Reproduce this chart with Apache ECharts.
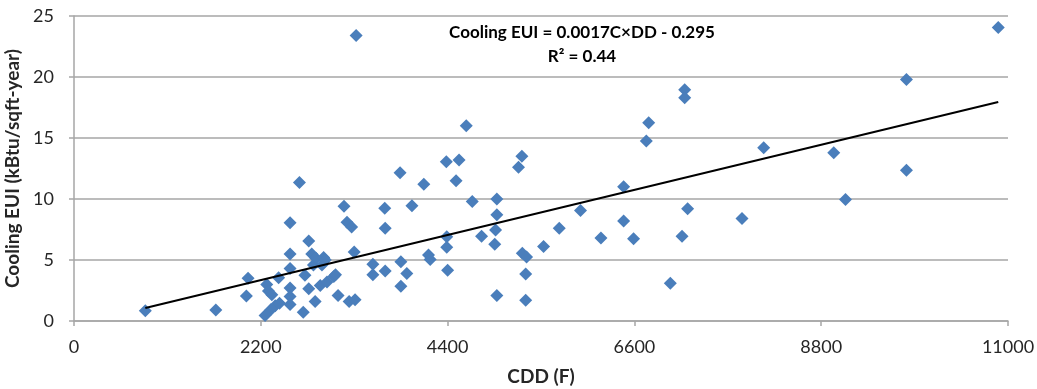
<!DOCTYPE html>
<html>
<head>
<meta charset="utf-8">
<script src="https://cdn.jsdelivr.net/npm/echarts@6/dist/echarts.min.js"></script>
<style>
  html, body { margin: 0; padding: 0; background: #fff; }
  #chart { width: 1037px; height: 389px; }
</style>
</head>
<body>
<div id="chart"></div>
<script>
// CDD (F) per building
const cdd = [
  840, 1670, 2030, 2050, 2250, 2270, 2290, 2320, 2330, 2370,
  2410, 2420, 2545, 2545, 2545, 2545, 2545, 2545, 2655, 2700,
  2720, 2765, 2765, 2800, 2820, 2840, 2850, 2900, 2920, 2940,
  2960, 2980, 3060, 3080, 3110, 3180, 3215, 3240, 3270, 3300,
  3310, 3323, 3520, 3520, 3660, 3665, 3665, 3840, 3850, 3850,
  3920, 3980, 4120, 4175, 4195, 4385, 4390, 4390, 4400, 4500,
  4535, 4620, 4690, 4800, 4955, 4965, 4980, 4980, 4980, 5235,
  5275, 5280, 5330, 5320, 5320, 5530, 5715, 5965, 6206, 6473,
  6473, 6590, 6740, 6768, 7023, 7161, 7192, 7192, 7227, 7867,
  8123, 8948, 9086, 9804, 9804, 10885
];
// Cooling EUI (kBtu/sqft-year), same order
const eui = [
  0.84, 0.9, 2.05, 3.5, 0.45, 3.0, 2.45, 0.95, 2.15, 1.25,
  3.55, 1.45, 8.05, 5.5, 4.3, 2.7, 2.0, 1.35, 11.35, 0.72,
  3.75, 6.55, 2.65, 5.5, 4.6, 1.6, 5.15, 2.9, 4.6, 5.2,
  5.0, 3.2, 3.65, 3.8, 2.1, 9.4, 8.1, 1.6, 7.7, 5.65,
  1.75, 23.4, 4.65, 3.8, 9.25, 7.6, 4.1, 12.15, 4.85, 2.85,
  3.9, 9.45, 11.2, 5.4, 5.05, 13.05, 6.9, 6.05, 4.15, 11.5,
  13.2, 16.0, 9.8, 6.95, 6.3, 7.45, 8.7, 10.0, 2.1, 12.6,
  13.5, 5.55, 5.25, 3.85, 1.7, 6.1, 7.6, 9.05, 6.8, 11.0,
  8.2, 6.75, 14.75, 16.25, 3.1, 6.95, 18.95, 18.3, 9.2, 8.4,
  14.2, 13.8, 9.95, 19.8, 12.35, 24.05
];
// linear trend as drawn
const trendSlope = 0.00168;
const trendIntercept = -0.34;
const xTicks = [0, 2200, 4400, 6600, 8800, 11000];
const eqLines = ['Cooling EUI = 0.0017C×DD - 0.295', 'R² = 0.44'];

const pts = cdd.map((c, i) => [c, eui[i]]);
const xMin = Math.min(...cdd), xMax = Math.max(...cdd);
const trend = [xMin, xMax].map(c => [c, trendSlope * c + trendIntercept]);

const font = 'Lato, "Open Sans", sans-serif';
const gridColor = '#a6a6a6';
const textColor = '#262626';

const chart = echarts.init(document.getElementById('chart'), null, { renderer: 'canvas' });
chart.setOption({
  animation: false,
  backgroundColor: '#fff',
  grid: { left: 74, right: 29, top: 16, bottom: 68, outerBoundsMode: 'none', containLabel: false },
  xAxis: {
    type: 'value',
    min: xTicks[0],
    max: xTicks[xTicks.length - 1],
    interval: 2200,
    name: 'CDD (F)',
    nameLocation: 'middle',
    nameGap: 46,
    nameTextStyle: { fontFamily: font, fontWeight: 'bold', fontSize: 19, color: textColor },
    axisLine: { show: true, lineStyle: { color: gridColor, width: 1.5 } },
    axisTick: { show: true, length: 5, lineStyle: { color: gridColor, width: 1.5 } },
    axisLabel: {
      fontFamily: font, fontSize: 18, color: textColor, margin: 17,
      formatter: v => String(v)
    },
    splitLine: { show: false }
  },
  yAxis: {
    type: 'value',
    min: 0,
    max: 25,
    interval: 5,
    name: 'Cooling EUI (kBtu/sqft-year)',
    nameLocation: 'middle',
    nameGap: 39,
    nameTextStyle: { fontFamily: font, fontWeight: 'bold', fontSize: 19, color: textColor },
    axisLine: { show: true, lineStyle: { color: gridColor, width: 1.5 } },
    axisTick: { show: true, length: 5, lineStyle: { color: gridColor, width: 1.5 } },
    axisLabel: { fontFamily: font, fontSize: 18, color: textColor, margin: 20 },
    splitLine: { show: true, lineStyle: { color: gridColor, width: 1.5 } }
  },
  series: [
    {
      type: 'scatter',
      data: pts,
      symbol: 'path://M5,0L10,5L5,10L0,5Z',
      symbolSize: 13,
      itemStyle: { color: '#4a7ebb', opacity: 1 },
      z: 2
    },
    {
      type: 'line',
      data: trend,
      symbol: 'none',
      lineStyle: { color: '#000', width: 2 },
      z: 3
    }
  ],
  graphic: eqLines.map((t, i) => ({
    type: 'text',
    x: 582,
    y: 33 + i * 24,
    z: 10,
    style: {
      text: t,
      textAlign: 'center',
      textVerticalAlign: 'middle',
      font: 'bold 17px ' + font,
      fill: '#000'
    }
  }))
});
</script>
</body>
</html>
